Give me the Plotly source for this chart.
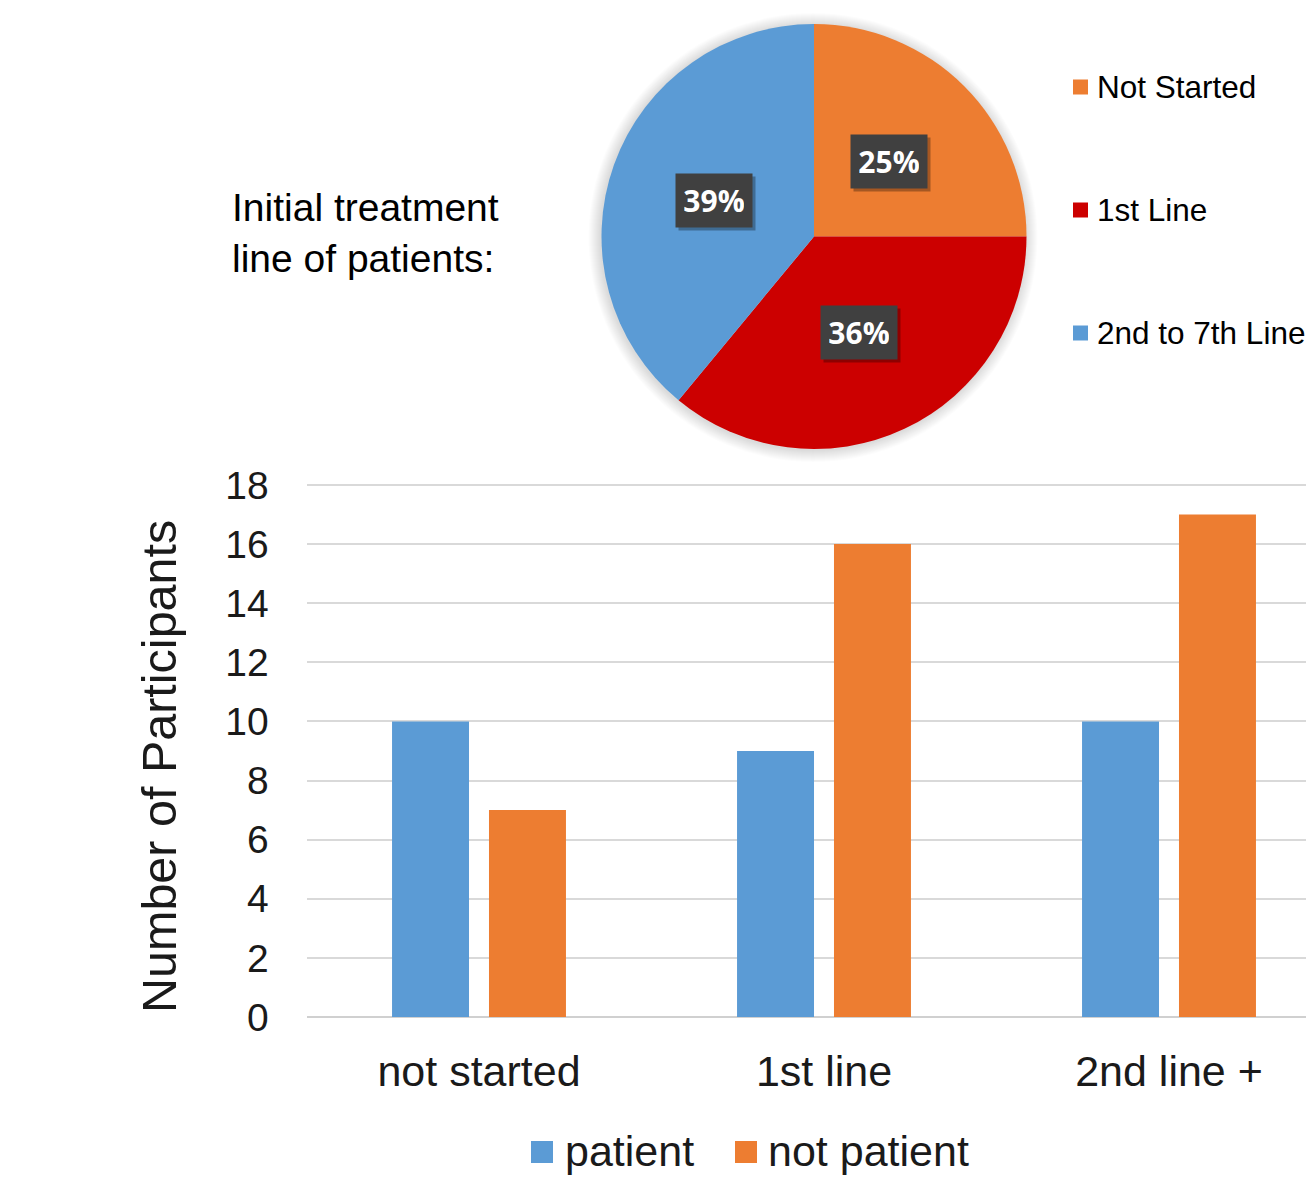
import math
import plotly.graph_objects as go

W, H = 1306, 1178

# Pie: initial treatment line of patients
pie_labels = ["Not Started", "1st Line", "2nd to 7th Line"]
pie_values = [25, 36, 39]
pie_colors = ["#ED7D31", "#CC0000", "#5B9BD5"]

# Bars: participants per treatment line
categories = ["not started", "1st line", "2nd line +"]
series_names = ["patient", "not patient"]
patient = [10, 9, 10]
not_patient = [7, 16, 17]
bar_colors = ["#5B9BD5", "#ED7D31"]
y_ticks = [0, 2, 4, 6, 8, 10, 12, 14, 16, 18]

FONT = "Liberation Sans, Arial, sans-serif"
TXT = "#1a1a1a"

def px_x(p):
    return p / W

def px_y(p):
    return 1 - p / H

pie_dom_x = [px_x(601), px_x(1027)]
pie_dom_y = [px_y(449), px_y(24)]

fig = go.Figure()

fig.add_trace(go.Pie(
    labels=pie_labels, values=pie_values, sort=False, direction="clockwise",
    rotation=0, marker=dict(colors=pie_colors, line=dict(width=0)),
    textinfo="none", hoverinfo="label+percent", showlegend=False,
    domain=dict(x=pie_dom_x, y=pie_dom_y),
))

for name, vals, col in zip(series_names, [patient, not_patient], bar_colors):
    fig.add_trace(go.Bar(
        x=categories, y=vals, name=name, marker=dict(color=col, line=dict(width=0)),
        showlegend=False, xaxis="x", yaxis="y",
    ))

annotations = []
shapes = []

# soft shadow behind the pie
cx_px = (pie_dom_x[0] + pie_dom_x[1]) / 2 * W
cy_px = (1 - (pie_dom_y[0] + pie_dom_y[1]) / 2) * H
R = min((pie_dom_x[1] - pie_dom_x[0]) * W, (pie_dom_y[1] - pie_dom_y[0]) * H) / 2
for grow in range(12, 0, -1):
    shapes.append(dict(
        type="circle", xref="paper", yref="paper", layer="below",
        x0=px_x(cx_px - R - grow - 1), x1=px_x(cx_px + R + grow - 1),
        y0=px_y(cy_px + R + grow + 1), y1=px_y(cy_px - R - grow + 1),
        fillcolor="rgba(0,0,0,0.012)", line=dict(width=0),
    ))

# percentage labels in dark boxes, placed at the middle of each slice
total = sum(pie_values)
cum = 0
for v in pie_values:
    mid = (cum + v / 2) / total * 2 * math.pi
    cum += v
    rl = 0.5 * R
    lx = cx_px + rl * math.sin(mid)
    ly = cy_px - rl * math.cos(mid)
    pct = f"{round(v / total * 100)}%"
    common = dict(
        x=px_x(lx), y=px_y(ly), xref="paper", yref="paper", showarrow=False,
        xanchor="center", yanchor="middle",
        width=60, height=37, borderpad=8, align="center", valign="middle",
    )
    annotations.append(dict(
        common, text=" ", bgcolor="rgba(0,0,0,0.3)", xshift=3, yshift=-3,
        font=dict(size=30, family="Open Sans", color="rgba(0,0,0,0)"),
    ))
    annotations.append(dict(
        common, text=f"<b>{pct}</b>", bgcolor="#404040",
        font=dict(size=30, family="Open Sans", color="white"),
    ))

# pie legend
for i, (lab, col) in enumerate(zip(pie_labels, pie_colors)):
    yc = 87 + i * 123
    shapes.append(dict(
        type="rect", xref="paper", yref="paper",
        x0=px_x(1073), x1=px_x(1088), y0=px_y(yc + 7.5), y1=px_y(yc - 7.5),
        fillcolor=col, line=dict(width=0),
    ))
    annotations.append(dict(
        x=px_x(1095), y=px_y(yc), xref="paper", yref="paper", xanchor="left",
        yanchor="middle", text=lab, showarrow=False,
        font=dict(size=31.5, family=FONT, color="#000000"),
    ))

# pie caption
annotations.append(dict(
    x=px_x(230), y=px_y(233), xref="paper", yref="paper", xanchor="left",
    yanchor="middle", align="left", showarrow=False,
    text="Initial treatment<br>line of patients:",
    font=dict(size=39, family=FONT, color="#000000"),
))

# y-axis title
annotations.append(dict(
    x=px_x(159), y=px_y(767), xref="paper", yref="paper", xanchor="center",
    yanchor="middle", textangle=-90, showarrow=False,
    text="Number of Participants",
    font=dict(size=48.5, family=FONT, color=TXT),
))

# bar legend
leg_sq = [531, 735]
leg_tx = [563, 766]
for name, col, sx, tx in zip(series_names, bar_colors, leg_sq, leg_tx):
    yc = 1152
    shapes.append(dict(
        type="rect", xref="paper", yref="paper",
        x0=px_x(sx), x1=px_x(sx + 22), y0=px_y(yc + 11), y1=px_y(yc - 11),
        fillcolor=col, line=dict(width=0),
    ))
    annotations.append(dict(
        x=px_x(tx), y=px_y(yc - 1), xref="paper", yref="paper", xanchor="left",
        yanchor="middle", text=name, showarrow=False,
        font=dict(size=43, family=FONT, color=TXT),
    ))

cat_px = 345.0
x_left = 306.5
x_range_end = -0.5 + (W - x_left) / cat_px
y_top = 18.04
px_per_unit = (1017 - 485) / 18.0

fig.update_layout(
    template="none",
    width=W, height=H, autosize=False,
    margin=dict(l=0, r=0, t=0, b=0, pad=0, autoexpand=False),
    paper_bgcolor="white", plot_bgcolor="white",
    barmode="group", bargap=0.438, bargroupgap=0.206,
    xaxis=dict(
        domain=[px_x(x_left), 1], range=[-0.5, x_range_end], automargin=False,
        showgrid=False, zeroline=False, showline=False,
        ticks="outside", ticklen=16, tickcolor="rgba(0,0,0,0)",
        tickfont=dict(size=43, family=FONT, color=TXT),
        fixedrange=True,
    ),
    yaxis=dict(
        domain=[px_y(1017), px_y(1017 - y_top * px_per_unit)], range=[0, y_top],
        automargin=False,
        tickvals=y_ticks, ticktext=[str(t) for t in y_ticks],
        showgrid=True, gridcolor="#d9d9d9", gridwidth=2,
        zeroline=True, zerolinecolor="#d0d0d0", zerolinewidth=2,
        showline=False, ticks="outside", ticklen=29, tickcolor="rgba(0,0,0,0)",
        tickfont=dict(size=39, family=FONT, color=TXT),
        fixedrange=True,
    ),
    annotations=annotations, shapes=shapes,
    showlegend=False,
)

fig.write_html("out.html")
